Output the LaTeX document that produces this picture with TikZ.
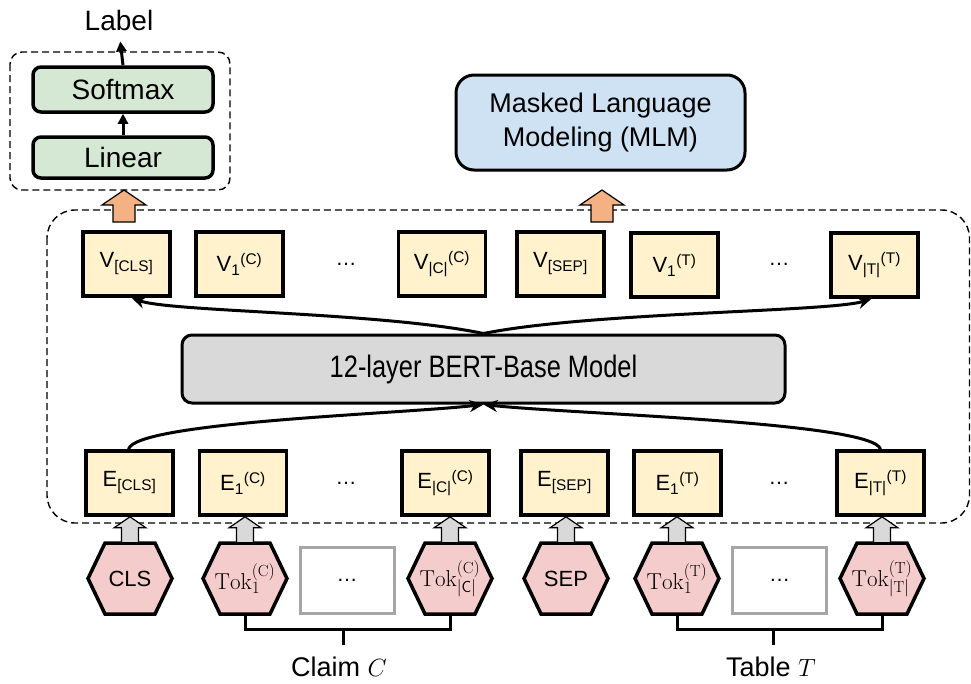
\documentclass[tikz,border=0pt]{standalone}
\usepackage{fontspec}
\usepackage{graphicx}
\newfontfamily\arial{Liberation Sans}
\usetikzlibrary{arrows.meta,calc}
\definecolor{vyellow}{HTML}{FFF2CC}
\definecolor{lgreen}{HTML}{D5E8D4}
\definecolor{lblue}{HTML}{CFE2F3}
\definecolor{bgray}{HTML}{D9D9D9}
\definecolor{hpink}{HTML}{F4CCCC}
\definecolor{orng}{HTML}{F4B183}
\definecolor{dgray}{HTML}{A6A6A6}
\newcommand{\fs}[1]{\fontsize{#1}{#1}\selectfont}
\tikzset{
  txt/.style={inner sep=0pt, font=\arial\fs{27}},
  vbox/.style={draw=black, line width=3.5pt, fill=vyellow, inner sep=0pt,
    minimum width=87pt, minimum height=64pt, font=\arial\fs{22}},
  dotsnode/.style={inner sep=0pt, font=\arial\fs{21}},
  greenbox/.style={draw=black, line width=3.5pt, fill=lgreen, rounded corners=8pt,
    inner sep=0pt, minimum width=180pt, font=\arial\fs{28}},
  dashbox/.style={draw=black, line width=1.4pt, dash pattern=on 7pt off 4pt},
  hexline/.style={draw=black, line width=3.5pt, fill=hpink, line join=miter},
  hextext/.style={inner sep=0pt, minimum width=84pt, minimum height=71pt},
  graybox/.style={draw=dgray, line width=3pt, fill=white, inner sep=0pt,
    minimum width=94pt, minimum height=66pt, font=\arial\fs{21}},
  conn/.style={draw=black, line width=3pt, -{Stealth[length=14pt,width=12pt]}},
  sconn/.style={draw=black, line width=3pt, -{Triangle[length=10pt,width=10pt]}},
  brk/.style={draw=black, line width=3pt},
  oarrow/.style={draw=black, line width=1.2pt, fill=orng, line join=miter},
  garrowst/.style={draw=black, line width=1.2pt, fill=bgray, line join=miter},
}
\newcommand{\hexat}[4]{%
  \draw[hexline] (#2-42,#3) -- (#2-25,#3-35.5) -- (#2+25,#3-35.5) -- (#2+42,#3)
    -- (#2+25,#3+35.5) -- (#2-25,#3+35.5) -- cycle;
  \node[hextext] (#1) at (#2,#3) {#4};}
\newcommand{\grayarrow}[1]{%
  \draw[garrowst] ($(#1.north)+(0,-26)$) -- ($(#1.north)+(16,-15)$) -- ($(#1.north)+(8.5,-15)$)
    -- ($(#1.north)+(8.5,0)$) -- ($(#1.north)+(-8.5,0)$) -- ($(#1.north)+(-8.5,-15)$)
    -- ($(#1.north)+(-16,-15)$) -- cycle;}
\newcommand{\orangearrow}[1]{%
  \draw[oarrow] (#1,190) -- (#1+22,205) -- (#1+11,205) -- (#1+11,222)
    -- (#1-11,222) -- (#1-11,205) -- (#1-22,205) -- cycle;}
\newcommand{\tok}[2]{\fontsize{23}{26}\selectfont$\mathrm{Tok}_{#1}^{(\mathrm{#2})}$}
\begin{document}
\begin{tikzpicture}[x=1pt,y=-1pt]
\useasboundingbox (0,0) rectangle (971,683);

% ---------- top-left classifier ----------
\draw[dashbox, rounded corners=12pt] (10,52) rectangle (230,190);
\node[greenbox, minimum height=45pt] (smax) at (123,89.5) {Softmax};
\node[greenbox, minimum height=41pt] (lin) at (123,157.5) {Linear};
\node[txt, font=\arial\fs{28}] (label) at (119,20) {Label};
\draw[sconn] (lin.north) -- (smax.south);
\draw[sconn, shorten >=11pt] (smax.north) -- (label.south);

% ---------- MLM ----------
\node[draw=black, line width=3pt, fill=lblue, rounded corners=18pt, inner sep=0pt,
  minimum width=289pt, minimum height=95pt, align=center,
  font=\arial\fontsize{27}{34}\selectfont] (mlm) at (600.5,122.5)
  {Masked Language\\Modeling (MLM)};

% ---------- big dashed frame ----------
\draw[dashbox, rounded corners=28pt] (47,210) rectangle (969.5,523);

\orangearrow{124}
\orangearrow{602}

% ---------- V row ----------
\node[vbox] (vcls) at (126.5,264) {V\textsubscript{[CLS]}};
\node[vbox] (vc1) at (239.5,264) {V\textsubscript{1}\textsuperscript{(C)}};
\node[dotsnode] (vdc) at (346,264) {\ldots};
\node[vbox] (vcn) at (442,264) {V\textsubscript{|C|}\textsuperscript{(C)}};
\node[vbox] (vsep) at (560.5,264) {V\textsubscript{[SEP]}};
\node[vbox] (vt1) at (674.5,265) {V\textsubscript{1}\textsuperscript{(T)}};
\node[dotsnode] (vdt) at (779,264) {\ldots};
\node[vbox] (vtn) at (874.5,265) {V\textsubscript{|T|}\textsuperscript{(T)}};

% ---------- BERT ----------
\node[draw=black, line width=3pt, fill=bgray, rounded corners=10pt, inner sep=0pt,
  minimum width=603pt, minimum height=68pt, font=\arial\fs{31}] (bert) at (483.5,369)
  {\scalebox{0.82}[1]{12-layer BERT-Base Model}};

% ---------- E row ----------
\node[vbox] (ecls) at (129.5,483) {E\textsubscript{[CLS]}};
\node[vbox] (ec1) at (243,483) {E\textsubscript{1}\textsuperscript{(C)}};
\node[dotsnode] (edc) at (346,483) {\ldots};
\node[vbox] (ecn) at (445.5,483) {E\textsubscript{|C|}\textsuperscript{(C)}};
\node[vbox] (esep) at (564.5,483) {E\textsubscript{[SEP]}};
\node[vbox] (et1) at (677.5,483) {E\textsubscript{1}\textsuperscript{(T)}};
\node[dotsnode] (edt) at (779,483) {\ldots};
\node[vbox] (etn) at (880.5,483) {E\textsubscript{|T|}\textsuperscript{(T)}};

% ---------- curves ----------
\draw[conn] (bert.north) .. controls (380,312) and (170,312) .. ([xshift=5pt]vcls.south);
\draw[conn] (bert.north) .. controls (590,312) and (830,312) .. ([xshift=-3pt]vtn.south);
\draw[conn] ([xshift=-1pt]ecls.north) .. controls (135,422) and (400,414) .. (bert.south);
\draw[conn] (etn.north) .. controls (874,422) and (570,414) .. (bert.south);

% ---------- hexagons ----------
\hexat{hcls}{130}{578.5}{\arial\fs{22}CLS}
\hexat{hc1}{245}{578.5}{\tok{1}{C}}
\hexat{hcn}{450}{578.5}{\tok{\mathsf{|C|}}{C}}
\hexat{hsep}{566}{578.5}{\arial\fs{22}SEP}
\hexat{ht1}{677}{578.5}{\tok{1}{T}}
\hexat{htn}{882}{578.5}{\tok{\mathrm{|T|}}{T}}
\node[graybox] (gdc) at (347,580) {\ldots};
\node[graybox] (gdt) at (779.5,580) {\ldots};

\grayarrow{hcls}
\grayarrow{hc1}
\grayarrow{hcn}
\grayarrow{hsep}
\grayarrow{ht1}
\grayarrow{htn}

% ---------- brackets ----------
\coordinate (cmid) at (343,629);
\coordinate (tmid) at (773,629);
\draw[brk] (hc1.south) |- (cmid) -| (hcn.south);
\draw[brk] (ht1.south) |- (tmid) -| (htn.south);
\node[txt, anchor=base] (claim) at (339,676) {Claim $C$};
\node[txt, anchor=base] (table) at (771,676) {Table $T$};
\draw[brk] (cmid) -- ++(0,16);
\draw[brk] (tmid) -- ++(0,16);
\end{tikzpicture}
\end{document}
